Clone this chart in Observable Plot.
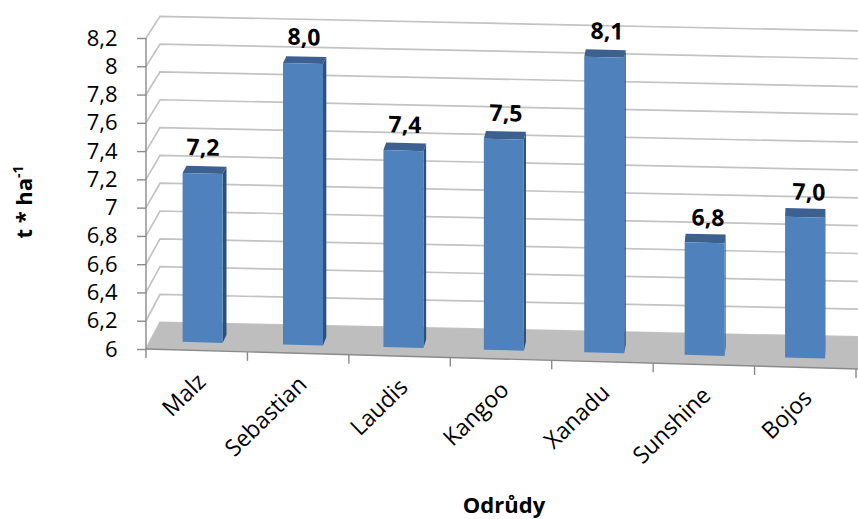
<!DOCTYPE html>
<html>
<head>
<meta charset="utf-8">
<script src="https://cdn.jsdelivr.net/npm/d3@7"></script>
<script src="https://cdn.jsdelivr.net/npm/@observablehq/plot@0.6"></script>
<style>
  body { margin: 0; background: #fff; }
  #chart { width: 858px; height: 519px; }
</style>
</head>
<body>
<div id="chart"></div>
<script>
// Yield by variety (t * ha-1)
const varieties = ["Malz", "Sebastian", "Laudis", "Kangoo", "Xanadu", "Sunshine", "Bojos"];
const yields = [7.2, 8.0, 7.4, 7.5, 8.1, 6.8, 7.0];
const yTicks = [6, 6.2, 6.4, 6.6, 6.8, 7, 7.2, 7.4, 7.6, 7.8, 8, 8.2];
const yTickLabels = ["6", "6,2", "6,4", "6,6", "6,8", "7", "7,2", "7,4", "7,6", "7,8", "8", "8,2"];
const xTitle = "Odrůdy";
const yTitle = "t * ha";
const yTitleSup = "-1";

const rows = varieties.map((name, i) => ({name, value: yields[i]}));
const fmt = v => v.toFixed(1).replace(".", ",");

const FONT = '"Open Sans", "DejaVu Sans", sans-serif';
const TEXT_SHEAR = 0.027;

// Simple oblique projection: depth d in [0, 1] pushes a point back and up,
// and the whole scene tilts slightly downward to the right.
function makeProjector(scales, dims) {
  const X0 = dims.marginLeft;
  const yBot = scales.y(yTicks[0]);
  const yTop = scales.y(yTicks[yTicks.length - 1]);
  return (x, y, d, xr = x) => {
    const kx = 14 * Math.max(0, 1 - (xr - X0) / 720);
    const xx = x + d * kx;
    const yy = y - d * (22 + 5 * (y - yTop) / (yBot - yTop));
    return [xx, yy + (0.028 - 0.007 * d) * (xx - X0)];
  };
}
const path = (pts, close = true) => "M" + pts.map(p => p.join(",")).join("L") + (close ? "Z" : "");

// Back wall and side wall gridlines
function renderWalls(index, scales, values, dims) {
  const P = makeProjector(scales, dims);
  const X0 = dims.marginLeft, XE = dims.width + 14;
  const g = d3.create("svg:g");
  for (const t of yTicks) {
    const y = scales.y(t);
    g.append("path")
      .attr("d", path([P(X0, y, 0), P(X0, y, 1), P(XE, y, 1)], false))
      .attr("fill", "none").attr("stroke", "#C3C3C3").attr("stroke-width", 1.7);
  }
  return g.node();
}

// Grey floor with the category axis along its front edge
function renderFloor(index, scales, values, dims) {
  const P = makeProjector(scales, dims);
  const X0 = dims.marginLeft, XE = dims.width + 14;
  const yb = scales.y(yTicks[0]);
  const yt = scales.y(yTicks[yTicks.length - 1]);
  const bw = (dims.width - dims.marginLeft - dims.marginRight) / varieties.length;
  const g = d3.create("svg:g");
  g.append("path")
    .attr("d", path([P(X0, yb, 0), P(XE, yb, 0), P(XE, yb, 1), P(X0, yb, 1)]))
    .attr("fill", "#BEBEBE");
  g.append("path")
    .attr("d", path([P(X0, yb, 0), P(XE, yb, 0)], false))
    .attr("fill", "none").attr("stroke", "#8A8A8A").attr("stroke-width", 1.4);
  g.append("path")
    .attr("d", path([P(X0, yt, 0), P(X0, yb, 0)], false))
    .attr("fill", "none").attr("stroke", "#8A8A8A").attr("stroke-width", 1.4);
  for (let i = 0; i <= varieties.length; i++) {
    const [px, py] = P(X0 + i * bw, yb, 0);
    g.append("path")
      .attr("d", path([[px, py], [px, py + 9]], false))
      .attr("stroke", "#8A8A8A").attr("stroke-width", 1.4);
  }
  return g.node();
}

// Extruded columns: side, top and front faces
function renderColumns(index, scales, values, dims) {
  const P = makeProjector(scales, dims);
  const bw = (dims.width - dims.marginLeft - dims.marginRight) / varieties.length;
  const hw = 20, d0 = 0.3, d1 = 0.6;
  const g = d3.create("svg:g");
  for (const i of index) {
    const cx = values.x[i] + bw / 2;
    const yb = values.y1[i], yt = values.y2[i];
    const L = cx - hw, R = cx + hw;
    g.append("path")
      .attr("d", path([P(R, yt, d0, cx), P(R, yb, d0, cx), P(R, yb, d1, cx), P(R, yt, d1, cx)]))
      .attr("fill", "#2E5078");
    g.append("path")
      .attr("d", path([P(L, yt, d0, cx), P(R, yt, d0, cx), P(R, yt, d1, cx), P(L, yt, d1, cx)]))
      .attr("fill", "#3C6191");
    g.append("path")
      .attr("d", path([P(L, yt, d0, cx), P(R, yt, d0, cx), P(R, yb, d0, cx), P(L, yb, d0, cx)]))
      .attr("fill", "#4F81BD");
  }
  return g.node();
}

// Tilt text marks along with the floor
function tilted(index, scales, values, dims, context, next) {
  const g = next(index, scales, values, dims, context);
  const w = document.createElementNS("http://www.w3.org/2000/svg", "g");
  w.setAttribute("transform", `matrix(1 ${TEXT_SHEAR} 0 1 0 ${-TEXT_SHEAR * dims.marginLeft})`);
  w.appendChild(g);
  return w;
}

const chart = Plot.plot({
  width: 858,
  height: 519,
  marginLeft: 146,
  marginRight: 2,
  marginTop: 38,
  marginBottom: 170,
  style: {fontFamily: FONT, fontSize: "22px", color: "#000", background: "#fff"},
  x: {type: "band", domain: varieties, padding: 0, axis: null},
  y: {domain: [6, 8.2], label: null},
  marks: [
    Plot.ruleY(yTicks, {y: d => d, render: renderWalls}),
    Plot.ruleY([yTicks[0]], {y: d => d, render: renderFloor}),
    Plot.barY(rows, {x: "name", y1: () => yTicks[0], y2: "value", render: renderColumns}),
    Plot.axisY(yTicks, {
      label: null,
      tickFormat: d => yTickLabels[yTicks.indexOf(d)],
      tickSize: 9, tickPadding: 20, fontSize: 22, stroke: "#8A8A8A", strokeWidth: 1.4
    }),
    Plot.text(rows, {
      x: "name", y: "value", text: d => fmt(d.value),
      fontWeight: "bold", fontSize: 23, lineAnchor: "bottom", dx: 4, dy: -26,
      render: tilted
    }),
    Plot.text(varieties, {
      x: d => d, y: () => yTicks[0], text: d => d,
      rotate: -45, textAnchor: "end", lineAnchor: "middle", fontSize: 23,
      dx: 3, dy: 27, render: tilted
    })
  ]
});

// Axis titles
const svg = d3.select(chart);
const yt = svg.append("text")
  .attr("transform", "translate(32,202) rotate(-90)")
  .attr("text-anchor", "middle")
  .attr("font-family", FONT).attr("font-weight", "bold").attr("font-size", 22)
  .attr("fill", "#000");
yt.append("tspan").text(yTitle);
yt.append("tspan").attr("baseline-shift", "super").attr("font-size", 14).text(yTitleSup);

svg.append("text")
  .attr("x", 504).attr("y", 513)
  .attr("text-anchor", "middle")
  .attr("font-family", FONT).attr("font-weight", "bold").attr("font-size", 22)
  .attr("fill", "#000")
  .text(xTitle);

document.getElementById("chart").appendChild(chart);
</script>
</body>
</html>
